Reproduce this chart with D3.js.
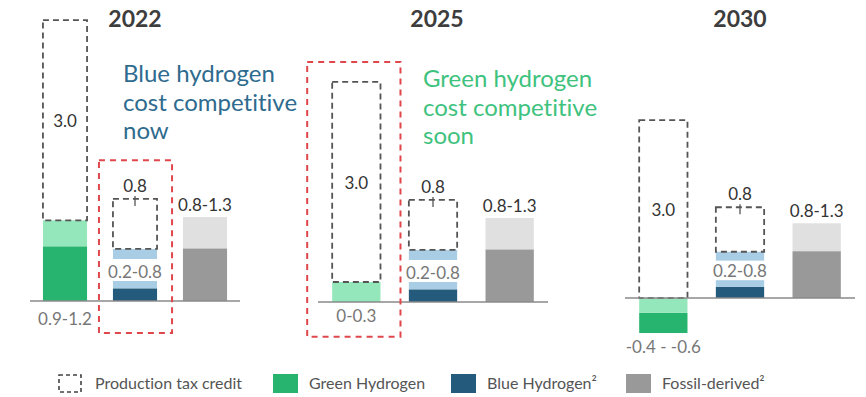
<!DOCTYPE html>
<html>
<head>
<meta charset="utf-8">
<script src="https://cdn.jsdelivr.net/npm/d3@7"></script>
<style>
  html, body { margin: 0; padding: 0; background: #fff; }
  svg { display: block; font-family: Lato, 'Open Sans', sans-serif; font-variant-ligatures: none; }
</style>
</head>
<body>
<div id="chart"></div>
<script>
// values ($/kg H2)
const years = ['2022', '2025', '2030']
const categories = ['Green', 'Blue', 'Fossil']
const taxCredit = [3.0, 3.0, 3.0]
const blueCredit = [0.75, 0.75, 0.75]
const greenDark = [[0, 0.82], [0, 0], [-0.25, -0.59]]
const greenLight = [[0.82, 1.21], [0, 0.3], [0, -0.25]]
const blueDark = [[0, 0.19], [0, 0.19], [0, 0.19]]
const blueLight = [[[0.19, 0.3], [0.63, 0.78]], [[0.19, 0.3], [0.63, 0.78]], [[0.19, 0.3], [0.63, 0.78]]]
const fossilDark = [[0, 0.79], [0, 0.79], [0, 0.79]]
const fossilLight = [[0.79, 1.26], [0.79, 1.26], [0.79, 1.26]]
const creditLabels = ['3.0', '3.0', '3.0']
const blueCreditLabels = ['0.8', '0.8', '0.8']
const greenLabels = ['0.9-1.2', '0-0.3', '-0.4 - -0.6']
const blueLabels = ['0.2-0.8', '0.2-0.8', '0.2-0.8']
const fossilLabels = ['0.8-1.3', '0.8-1.3', '0.8-1.3']
const highlight = ['Blue', 'Green', null]
const highlightRange = [[-0.48, 2.11], [-0.52, 3.6], null]
const callouts = [
  { text: ['Blue hydrogen', 'cost competitive', 'now'], color: '#2e6b8e' },
  { text: ['Green hydrogen', 'cost competitive', 'soon'], color: '#3ec27e' }
]
const legendItems = ['Production tax credit', 'Green Hydrogen', 'Blue Hydrogen\u00b2', 'Fossil-derived\u00b2']

const colors = {
  greenDark: '#27b46e', greenLight: '#94e6bb',
  blueDark: '#245a7c', blueLight: '#a8cde4',
  fossilDark: '#999999', fossilLight: '#e0e0e0',
  dash: '#555', red: '#e0474c'
}

const W = 866
const H = 397
const svg = d3.select('#chart').append('svg')
  .attr('width', W)
  .attr('height', H)

// layout per year panel
const panels = [
  { x0: 30, x1: 240, base: 301, ppu: 66.7, padL: 14, padR: 15 },
  { x0: 318, x1: 548, base: 302, ppu: 66.7, padL: 25, padR: 20 },
  { x0: 625, x1: 855, base: 298, ppu: 59.3 }
]

function seg (g, x, y, cat, r, fill) {
  let lo = Math.min(r[0], r[1])
  let hi = Math.max(r[0], r[1])
  if (hi - lo <= 0) return
  g.append('rect')
    .attr('x', x(cat))
    .attr('y', y(hi))
    .attr('width', x.bandwidth())
    .attr('height', y(lo) - y(hi))
    .attr('fill', fill)
}

function dashBox (g, x, y, cat, lo, hi) {
  g.append('rect')
    .attr('x', x(cat))
    .attr('y', y(hi))
    .attr('width', x.bandwidth())
    .attr('height', y(lo) - y(hi))
    .attr('fill', 'none')
    .attr('stroke', colors.dash)
    .attr('stroke-width', 1.8)
    .attr('stroke-dasharray', '6,4')
}

function label (g, cx, yy, txt, color) {
  g.append('text')
    .attr('x', cx)
    .attr('y', yy)
    .attr('text-anchor', 'middle')
    .attr('font-size', 17)
    .attr('fill', color)
    .text(txt)
}

years.forEach((yr, i) => {
  let p = panels[i]
  let g = svg.append('g').attr('class', 'panel')
  let x = d3.scaleBand().domain(categories).range([p.x0, p.x1])
    .paddingInner(0.37).paddingOuter(0.185)
  let y = d3.scaleLinear().domain([0, 3]).range([p.base, p.base - 3 * p.ppu])
  let cx = c => x(c) + x.bandwidth() / 2

  // bars
  seg(g, x, y, 'Green', greenDark[i], colors.greenDark)
  seg(g, x, y, 'Green', greenLight[i], colors.greenLight)
  seg(g, x, y, 'Blue', blueDark[i], colors.blueDark)
  blueLight[i].forEach(r => seg(g, x, y, 'Blue', r, colors.blueLight))
  seg(g, x, y, 'Fossil', fossilDark[i], colors.fossilDark)
  seg(g, x, y, 'Fossil', fossilLight[i], colors.fossilLight)

  // tax credit boxes
  let greenTop = Math.max(0, d3.max(greenLight[i].concat(greenDark[i])))
  dashBox(g, x, y, 'Green', greenTop, greenTop + taxCredit[i])
  let blueTop = d3.max(blueLight[i].flat())
  dashBox(g, x, y, 'Blue', blueTop, blueTop + blueCredit[i])
  let bTop = y(blueTop + blueCredit[i])
  g.append('line')
    .attr('x1', cx('Blue')).attr('x2', cx('Blue'))
    .attr('y1', bTop - 3).attr('y2', bTop + 7)
    .attr('stroke', colors.dash)
    .attr('stroke-width', 1.3)

  // baseline
  g.append('line')
    .attr('x1', p.x0).attr('x2', p.x1)
    .attr('y1', y(0)).attr('y2', y(0))
    .attr('stroke', '#8a8a8a')
    .attr('stroke-width', 1.5)

  // title
  g.append('text')
    .attr('x', (p.x0 + p.x1) / 2 + (i === 1 ? 4 : 0))
    .attr('y', 27)
    .attr('text-anchor', 'middle')
    .attr('font-size', 23)
    .attr('font-weight', 'bold')
    .attr('fill', '#3d3d3d')
    .text(yr)

  // value labels
  label(g, cx('Green'), y(greenTop + taxCredit[i] / 2) + 7, creditLabels[i], '#333')
  label(g, cx('Blue'), bTop - 7, blueCreditLabels[i], '#333')
  label(g, cx('Blue'), y(blueLight[i][0][1]) - 3, blueLabels[i], '#777')
  label(g, cx('Fossil'), y(fossilLight[i][1]) - 6, fossilLabels[i], '#333')
  let greenBottom = Math.min(0, d3.min(greenLight[i].concat(greenDark[i])))
  label(g, cx('Green'), y(greenBottom) + (greenBottom < 0 ? 20 : (i === 0 ? 24 : 20)), greenLabels[i], '#777')

  // red highlight
  if (highlight[i]) {
    let hr = highlightRange[i]
    g.append('rect')
      .attr('x', x(highlight[i]) - p.padL)
      .attr('y', y(hr[1]))
      .attr('width', x.bandwidth() + p.padL + p.padR)
      .attr('height', y(hr[0]) - y(hr[1]))
      .attr('fill', 'none')
      .attr('stroke', colors.red)
      .attr('stroke-width', 2)
      .attr('stroke-dasharray', '6,5')
  }
})

// callouts
const calloutPos = [{ x: 123, y: 82 }, { x: 423, y: 87 }]
callouts.forEach((c, i) => {
  let t = svg.append('text')
    .attr('x', calloutPos[i].x)
    .attr('y', calloutPos[i].y)
    .attr('font-size', 24)
    .attr('fill', c.color)
  c.text.forEach((line, j) => {
    t.append('tspan')
      .attr('x', calloutPos[i].x)
      .attr('dy', j === 0 ? 0 : 28.5)
      .text(line)
  })
})

// legend
const legendX = [58, 273, 451, 626]
const legendFill = [null, colors.greenDark, colors.blueDark, colors.fossilDark]
const legend = svg.append('g').attr('class', 'legend')
legendItems.forEach((d, i) => {
  let lg = legend.append('g').attr('transform', 'translate(' + legendX[i] + ',374)')
  if (legendFill[i]) {
    lg.append('rect')
      .attr('width', 25).attr('height', 19)
      .attr('fill', legendFill[i])
  } else {
    lg.append('rect')
      .attr('x', 1).attr('y', 1)
      .attr('width', 22).attr('height', 17)
      .attr('fill', 'none')
      .attr('stroke', '#444')
      .attr('stroke-width', 1.6)
      .attr('stroke-dasharray', '4,3')
  }
  lg.append('text')
    .attr('x', i === 0 ? 37 : 36)
    .attr('y', 15)
    .attr('font-size', 16)
    .attr('fill', '#555')
    .text(d)
})
</script>
</body>
</html>
